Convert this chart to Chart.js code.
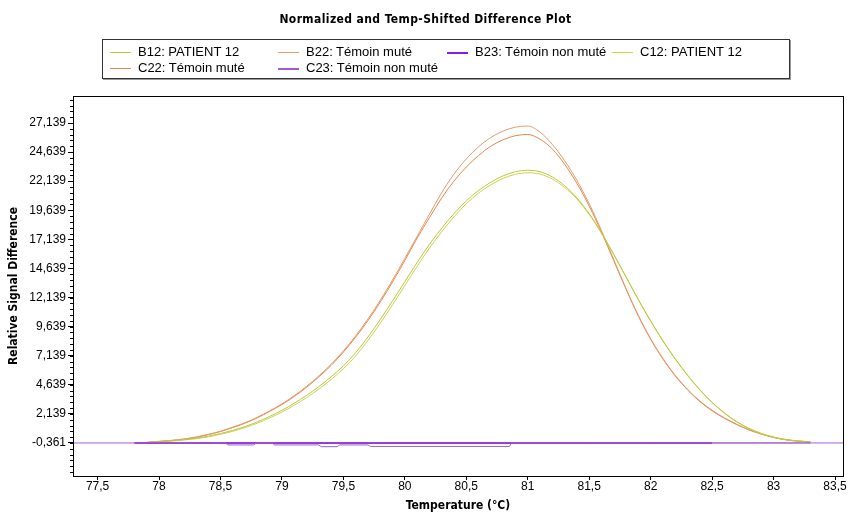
<!DOCTYPE html>
<html>
<head>
<meta charset="utf-8">
<script src="https://cdn.jsdelivr.net/npm/chart.js@4"></script>
<style>
  body { margin: 0; background: #fff; }
  #wrap { position: relative; width: 851px; height: 513px; }
  #c { position: absolute; left: 0; top: 0; }
  #title { position: absolute; left: 0; width: 851px; top: 12px; text-align: center;
           font: bold 12px "DejaVu Sans Condensed", "DejaVu Sans"; letter-spacing: 0.4px; }
  #legend { position: absolute; left: 102px; top: 39px; width: 686px; height: 38px;
            border: 1px solid #333; box-shadow: 1px 1px 0 #999; background: #fff; }
  .item { position: absolute; font: 13px "Liberation Sans", Arial; white-space: nowrap; }
  .item i { display: inline-block; width: 21px; height: 0; border-top: 1px solid; vertical-align: middle; margin-right: 7px; }
</style>
</head>
<body>
<div id="wrap">
  <canvas id="c" width="851" height="513"></canvas>
  <div id="title">Normalized and Temp-Shifted Difference Plot</div>
  <div id="legend"></div>
</div>
<script>
// temperature grid of the melt curves
var temps = [77.9,78.0,78.1,78.2,78.3,78.4,78.5,78.6,78.7,78.8,78.9,79.0,79.1,79.2,79.3,79.4,79.5,79.6,79.7,79.8,79.9,
             80.0,80.1,80.2,80.3,80.4,80.5,80.6,80.7,80.8,80.9,81.0,81.1,81.2,81.3,81.4,81.5,81.6,81.7,81.8,81.9,
             82.0,82.1,82.2,82.3,82.4,82.5,82.6,82.7,82.8,82.9,83.0,83.1,83.2,83.3];

var b12 = [-0.32,-0.25,-0.18,-0.08,0.05,0.22,0.45,0.72,1.05,1.45,1.92,2.45,3.05,3.72,4.48,5.32,6.27,7.40,8.75,10.25,11.85,
           13.50,15.15,16.70,18.10,19.35,20.45,21.35,22.05,22.60,22.95,23.08,22.95,22.50,21.75,20.70,19.35,17.70,15.85,13.90,11.95,
           10.10,8.40,6.85,5.45,4.20,3.10,2.20,1.45,0.88,0.45,0.14,-0.07,-0.19,-0.27];
var c12 = [-0.33,-0.27,-0.20,-0.11,0.00,0.16,0.38,0.64,0.96,1.34,1.79,2.30,2.88,3.53,4.27,5.09,6.02,7.12,8.45,9.93,11.52,
           13.17,14.82,16.38,17.80,19.07,20.20,21.12,21.83,22.38,22.73,22.86,22.75,22.32,21.60,20.60,19.28,17.66,15.83,13.90,11.97,
           10.13,8.43,6.88,5.48,4.23,3.13,2.23,1.48,0.90,0.46,0.15,-0.06,-0.18,-0.26];
var b22 = [-0.30,-0.22,-0.14,-0.02,0.15,0.38,0.65,1.00,1.38,1.85,2.40,3.00,3.70,4.50,5.40,6.40,7.55,8.85,10.30,11.90,13.65,
           15.50,17.40,19.30,21.15,22.75,24.05,25.10,25.90,26.45,26.78,26.88,26.35,25.30,23.90,22.20,20.20,17.90,15.40,12.90,10.60,
           8.60,6.90,5.45,4.25,3.25,2.45,1.80,1.25,0.78,0.42,0.12,-0.08,-0.20,-0.28];
var c22 = [-0.31,-0.23,-0.15,-0.04,0.12,0.35,0.62,0.96,1.34,1.80,2.35,2.94,3.63,4.42,5.32,6.30,7.45,8.73,10.16,11.75,13.48,
           15.32,17.25,19.00,20.70,22.15,23.35,24.35,25.15,25.70,26.05,26.15,25.75,24.90,23.60,21.95,20.00,17.75,15.30,12.85,10.55,
           8.55,6.85,5.40,4.20,3.20,2.40,1.76,1.22,0.76,0.40,0.11,-0.09,-0.21,-0.29];

// near-zero controls
var b23Temps = [77.8,78.5,79.0,79.5,80.0,80.5,81.0,81.5,82.0,82.5];
var b23 = [-0.361,-0.361,-0.361,-0.361,-0.361,-0.361,-0.361,-0.361,-0.361,-0.361];
var c23Temps = [77.8,78.54,78.56,78.77,78.79,78.92,78.94,79.3,79.32,79.45,79.47,79.7,79.72,80.85,80.87,81.5,82.0,82.5,83.0,83.3];
var c23 = [-0.361,-0.361,-0.53,-0.53,-0.38,-0.38,-0.53,-0.53,-0.68,-0.68,-0.53,-0.53,-0.66,-0.66,-0.361,-0.361,-0.361,-0.361,-0.361,-0.361];
var baseTemps = [77.3,83.6];
var baseVals = [-0.361,-0.361];

var names  = ['B12: PATIENT 12','B22: Témoin muté','B23: Témoin non muté','C12: PATIENT 12','C22: Témoin muté','C23: Témoin non muté'];
var colors = ['#b9c93a','#e39a6e','#8a1be8','#c9d54a','#e8864a','#a35ad3'];

var yTicks = [-0.361,2.139,4.639,7.139,9.639,12.139,14.639,17.139,19.639,22.139,24.639,27.139];
var xTicks = [77.5,78,78.5,79,79.5,80,80.5,81,81.5,82,82.5,83,83.5];

function pts(xs, ys) { return xs.map(function (x, i) { return {x: x, y: ys[i]}; }); }
function fr(v) { return String(v).replace('.', ','); }

// html legend, 4 columns x 2 rows
var legCols = [7, 175, 344, 509], legRows = [4, 20];
var leg = document.getElementById('legend');
names.forEach(function (n, i) {
  var d = document.createElement('div');
  d.className = 'item';
  d.style.left = legCols[i % 4] + 'px';
  d.style.top = legRows[Math.floor(i / 4)] + 'px';
  var w = (i == 2 || i == 5) ? 2 : 1;
  d.innerHTML = '<i style="border-color:' + colors[i] + ';border-top-width:' + w + 'px"></i>' + n;
  leg.appendChild(d);
});

var frame = {
  id: 'frame',
  afterDraw: function (chart) {
    var a = chart.chartArea, ctx = chart.ctx, y = chart.scales.y;
    ctx.save();
    ctx.strokeStyle = '#000';
    ctx.lineWidth = 1;
    ctx.strokeRect(Math.round(a.left) + 0.5, Math.round(a.top) + 0.5, Math.round(a.right - a.left), Math.round(a.bottom - a.top));
    // minor y ticks
    for (var v = -0.361 - 5 * 0.5; v < y.max; v += 0.5) {
      if (v < y.min) continue;
      var p = Math.round(y.getPixelForValue(v)) + 0.5;
      ctx.beginPath();
      ctx.moveTo(a.left - 3, p);
      ctx.lineTo(a.left, p);
      ctx.stroke();
    }
    ctx.restore();
  }
};

function line(label, data, color, w, smooth) {
  return {label: label, data: data, borderColor: color, borderWidth: w || 1, pointRadius: 0,
          fill: false, tension: smooth ? 0.4 : 0, cubicInterpolationMode: smooth ? 'monotone' : 'default'};
}

new Chart(document.getElementById('c'), {
  type: 'line',
  data: {
    datasets: [
      line('base', pts(baseTemps, baseVals), '#a461d6', 1),
      line(names[5], pts(c23Temps, c23), colors[5], 1),
      line(names[2], pts(b23Temps, b23), colors[2], 2),
      line(names[0], pts(temps, b12), colors[0], 1, true),
      line(names[3], pts(temps, c12), colors[3], 1, true),
      line(names[1], pts(temps, b22), colors[1], 1, true),
      line(names[4], pts(temps, c22), colors[4], 1, true)
    ]
  },
  options: {
    responsive: false,
    animation: false,
    devicePixelRatio: 1,
    layout: {padding: {top: 96, right: 8, left: 0, bottom: 0}},
    plugins: {legend: {display: false}, title: {display: false}, tooltip: {enabled: false}},
    scales: {
      x: {
        type: 'linear', min: 77.3, max: 83.565,
        afterFit: function (s) { s.height = 37; },
        afterBuildTicks: function (s) { s.ticks = xTicks.map(function (v) { return {value: v}; }); },
        ticks: {color: '#000', font: {family: 'Liberation Sans', size: 12}, padding: -1, maxRotation: 0,
                callback: function (v) { return fr(v); }},
        grid: {drawOnChartArea: false, tickLength: 4, color: '#000'},
        border: {color: '#000'},
        title: {display: true, text: 'Temperature (°C)', color: '#000', padding: 0,
                font: {family: 'DejaVu Sans Condensed', size: 12, weight: 'bold'}}
      },
      y: {
        type: 'linear', min: -3.2, max: 29.46,
        afterFit: function (s) { s.width = 73; },
        afterBuildTicks: function (s) { s.ticks = yTicks.map(function (v) { return {value: v}; }); },
        ticks: {color: '#000', font: {family: 'Liberation Sans', size: 12}, padding: 2,
                callback: function (v) { return v.toFixed(3).replace('.', ','); }},
        grid: {drawOnChartArea: false, tickLength: 5, color: '#000'},
        border: {color: '#000'},
        title: {display: true, text: 'Relative Signal Difference', color: '#000', padding: {top: 7, bottom: 0},
                font: {family: 'DejaVu Sans Condensed', size: 12, weight: 'bold'}}
      }
    }
  },
  plugins: [frame]
});
</script>
</body>
</html>
